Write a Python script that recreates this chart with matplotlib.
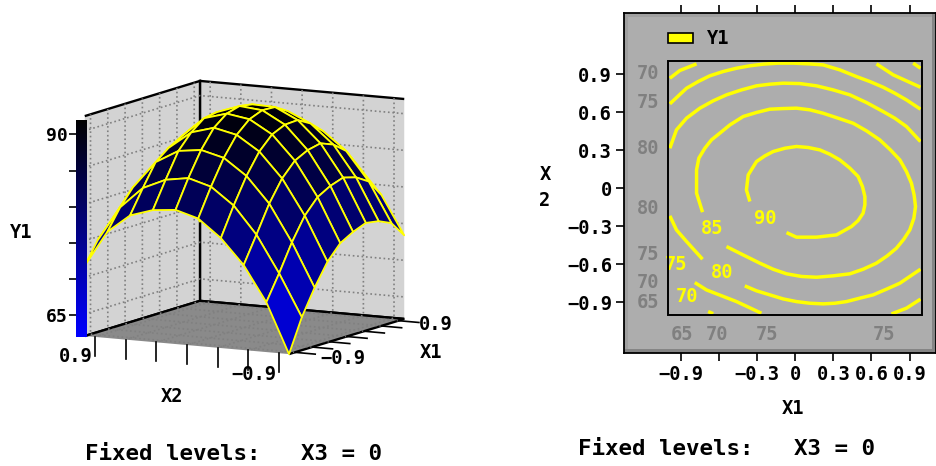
import matplotlib
matplotlib.use("Agg")
import matplotlib.pyplot as plt
import numpy as np
from matplotlib.cm import ScalarMappable
from matplotlib.colors import LinearSegmentedColormap, Normalize
from matplotlib.patches import Patch, Rectangle

W, H = 937, 466

# surface, rows are X1, columns are X2
grid_vals = [-1, -0.778, -0.556, -0.333, -0.111, 0.111, 0.333, 0.556, 0.778, 1]
y1_surface = [
    [62.0, 68.8, 73.6, 77.0, 79.4, 80.3, 80.0, 79.0, 76.5, 71.6],
    [66.5, 72.2, 77.2, 80.9, 83.2, 84.1, 83.6, 82.2, 79.3, 74.5],
    [70.0, 75.9, 80.9, 84.4, 86.6, 87.4, 87.0, 85.2, 81.5, 76.5],
    [73.0, 79.0, 83.8, 87.2, 89.2, 89.9, 89.0, 86.6, 82.3, 78.0],
    [75.0, 81.0, 85.7, 89.0, 90.8, 91.3, 90.4, 87.6, 84.0, 78.6],
    [76.0, 82.0, 86.6, 89.8, 91.5, 91.8, 90.7, 88.5, 84.2, 79.0],
    [76.7, 82.6, 87.0, 89.9, 91.4, 91.5, 90.2, 87.6, 83.8, 79.0],
    [76.4, 82.1, 86.3, 88.9, 90.3, 90.3, 88.8, 86.0, 82.5, 78.0],
    [75.6, 81.0, 84.9, 87.3, 88.3, 88.0, 86.5, 83.8, 80.0, 76.0],
    [73.4, 78.6, 82.2, 84.3, 85.0, 84.5, 83.0, 80.0, 77.0, 72.8],
]
ticks_3d = [-0.9, -0.6, -0.3, 0, 0.3, 0.6, 0.9]
z_ticks = [65, 70, 75, 80, 85, 90]
z_labels = ["65", "", "", "", "", "90"]

# contour lines (X1 list, X2 list)
c90_x = [-.356, -.383, -.369, -.304, -.238, -.173, -.081, .01, .102, .194, .272, .351, .43, .495, .529, .548, .548, .534, .495, .443, .325, .168, .01, -.068]
c90_y = [-.105, -.013, .105, .21, .255, .289, .315, .329, .321, .302, .268, .223, .158, .092, .013, -.066, -.131, -.197, -.255, -.302, -.368, -.386, -.386, -.35]
c85_x = [-.728, -.775, -.775, -.757, -.71, -.658, -.592, -.513, -.409, -.304, -.199, -.094, .01, .115, .22, .338, .456, .561, .665, .749, .823, .875, .914, .935, .946, .933, .901, .854, .796, .723, .639, .534, .43, .299, .168, .05, -.068, -.173, -.278, -.409, -.54]
c85_y = [-.189, -.039, .145, .237, .315, .381, .434, .499, .565, .597, .623, .628, .631, .618, .591, .552, .512, .452, .381, .302, .223, .131, .039, -.053, -.145, -.237, -.329, -.402, -.473, -.534, -.591, -.639, -.675, -.691, -.702, -.696, -.675, -.639, -.591, -.526, -.46]
c80a_x = [-.985, -.933, -.854, -.749, -.644, -.54, -.422, -.304, -.199, -.094, .037, .168, .299, .43, .561, .692, .783, .875, .985]
c80a_y = [.315, .46, .552, .631, .689, .736, .775, .807, .82, .828, .825, .807, .775, .736, .675, .604, .552, .486, .368]
c80b_x = [.985, .901, .823, .718, .613, .508, .403, .312, .22, .115, .01, -.094, -.199, -.304, -.396]
c80b_y = [-.639, -.696, -.749, -.796, -.841, -.867, -.894, -.907, -.912, -.907, -.894, -.873, -.841, -.809, -.77]
c80c_x = [-.728, -.854, -.933, -.985]
c80c_y = [-.56, -.42, -.329, -.218]
c75a_x = [-.985, -.854, -.762, -.671, -.566, -.461, -.356, -.252, -.134, -.016, .115, .22, .351, .482, .587, .692, .783, .875, .985]
c75a_y = [.665, .788, .841, .886, .92, .946, .965, .978, .986, .986, .98, .972, .933, .88, .841, .796, .749, .696, .623]
c75b_x = [.985, .875, .757]
c75b_y = [-.875, -.946, -.991]
c75c_x = [-.265, -.461, -.697, -.789]
c75c_y = [-.986, -.894, -.802, -.744]
c70a_x = [-.985, -.906, -.775]
c70a_y = [.867, .928, .98]
c70b_x = [.639, .77, .985]
c70b_y = [.98, .894, .796]
c70c_x = [-.684, -.644]
c70c_y = [-.972, -.99]
c65_x = [.927, .985]
c65_y = [.986, .946]
contours = [(c90_x, c90_y), (c85_x, c85_y), (c80a_x, c80a_y), (c80b_x, c80b_y), (c80c_x, c80c_y),
            (c75a_x, c75a_y), (c75b_x, c75b_y), (c75c_x, c75c_y), (c70a_x, c70a_y), (c70b_x, c70b_y),
            (c70c_x, c70c_y), (c65_x, c65_y)]

# labels on the contour lines and around the frame: text, X1, X2
inner_labels = [("90", -.238, -.237), ("85", -.65, -.315), ("80", -.571, -.662), ("70", -.854, -.854), ("75", -.938, -.604)]
outer_labels = [("70", -1.155, .901), ("75", -1.155, .678), ("80", -1.155, .315), ("80", -1.155, -.158),
                ("75", -1.155, -.526), ("70", -1.155, -.744), ("65", -1.155, -.901),
                ("65", -.886, -1.156), ("70", -.618, -1.156), ("75", -.22, -1.156), ("75", .697, -1.156)]
contour_ticks = [-0.9, -0.6, -0.3, 0, 0.3, 0.6, 0.9]
x_labels = ["\u22120.9", "", "\u22120.3", "0", "0.3", "0.6", "0.9"]
y_labels = ["\u22120.9", "\u22120.6", "\u22120.3", "0", "0.3", "0.6", "0.9"]

plt.rcParams["font.family"] = "DejaVu Sans Mono"
plt.rcParams["font.weight"] = "bold"
plt.rcParams["grid.color"] = "#808080"
plt.rcParams["grid.linestyle"] = ":"
plt.rcParams["grid.linewidth"] = 1.2

FS = 13.5
fig = plt.figure(figsize=(W / 100, H / 100), dpi=100)


def label(x, y, s, size=FS, **kw):
    # x, y are picture pixels, y going down
    fig.text(x / W, 1 - y / H, s, fontsize=size, ha="center", va="center", **kw)


# left panel
cmap = LinearSegmentedColormap.from_list("blues", ["#0000ff", "#000000"])
norm = Normalize(62, 92)

ax3 = fig.add_axes([5.2 / W, 9.2 / H, 466 / W, 1], projection="3d", proj_type="ortho", computed_zorder=False)
ax3.patch.set_alpha(0)
ax3.view_init(elev=9.46, azim=208.3)
ax3.set_box_aspect((242, 231, 222), zoom=0.84)
ax3.set_xlim(-1, 1)
ax3.set_ylim(-1, 1)
ax3.set_zlim(62, 92)
ax3.set_xticks(ticks_3d)
ax3.set_yticks(ticks_3d)
ax3.set_zticks(z_ticks)
ax3.set_xticklabels([])
ax3.set_yticklabels([])
ax3.set_zticklabels([])
ax3.tick_params(axis="both", color="none")
ax3.tick_params(axis="z", color="none")
for axis, col in ((ax3.xaxis, "#d3d3d3"), (ax3.yaxis, "#d3d3d3"), (ax3.zaxis, "#8a8a8a")):
    axis.set_pane_color(col)
    axis.pane.set_edgecolor("black")
    axis.pane.set_linewidth(1.7)
    axis.pane.set_alpha(1)
    axis.line.set_color("none")

X, Y = np.meshgrid(grid_vals, grid_vals, indexing="ij")
Z = np.array(y1_surface)
ax3.plot_surface(X, Y, Z, cmap=cmap, norm=norm, rstride=1, cstride=1, shade=False,
                 edgecolor="#ffff00", linewidth=1.3, zorder=5)

# tick marks under the floor edges
for t in ticks_3d:
    ax3.plot([-1, -1], [t, t], [62, 59.4], color="k", lw=1.2, zorder=2)
    ax3.plot([t, t], [-1, -1.2], [62, 62], color="k", lw=1.2, zorder=2)

# colour strip next to the box
cax = fig.add_axes([76 / W, 1 - 337 / H, 11 / W, 217 / H])
cb = fig.colorbar(ScalarMappable(norm=norm, cmap=cmap), cax=cax, ticks=z_ticks)
cb.set_ticklabels(z_labels)
cb.outline.set_visible(False)
cax.yaxis.set_ticks_position("left")
cax.tick_params(length=5, width=1.2, labelsize=13, pad=1)
cb.minorticks_off()

label(76, 357, "0.9")
label(254, 375, "\u22120.9")
label(172, 397, "X2")
label(436, 324, "0.9")
label(343, 358, "\u22120.9")
label(431, 353, "X1")
label(21, 233, "Y1")
label(233.5, 454, "Fixed levels:   X3 = 0", size=16.2)

# right panel
ax = fig.add_axes([624.3 / W, 1 - 352.7 / H, 311.7 / W, 339.4 / H])
ax.set_xlim(-1.343, 1.107)
ax.set_ylim(-1.297, 1.379)
ax.set_facecolor("#adadad")
for s in ax.spines.values():
    s.set_linewidth(1.3)
ax.add_patch(Rectangle((0, 0.988), 1, 0.012, transform=ax.transAxes, fc="#a0a0a0", ec="none", zorder=1))
ax.add_patch(Rectangle((0, 0), 0.013, 1, transform=ax.transAxes, fc="#a0a0a0", ec="none", zorder=1))
ax.add_patch(Rectangle((0, 0), 1, 0.012, transform=ax.transAxes, fc="#858585", ec="none", zorder=1))
ax.add_patch(Rectangle((0.987, 0), 0.013, 1, transform=ax.transAxes, fc="#858585", ec="none", zorder=1))

frame = Rectangle((-1, -1), 2, 2, fc="none", ec="k", lw=1.4, zorder=4)
ax.add_patch(frame)
for cx, cy in contours:
    ln, = ax.plot(cx, cy, color="#ffff00", lw=2.5, zorder=3, solid_capstyle="butt")
    ln.set_clip_path(frame)
for s, x, y in inner_labels:
    t = ax.text(x, y, s, color="#ffff00", fontsize=FS, ha="center", va="center", zorder=3)
    t.set_clip_path(frame)
for s, x, y in outer_labels:
    ax.text(x, y, s, color="#808080", fontsize=FS, ha="center", va="center")

ax.set_xticks(contour_ticks)
ax.set_xticklabels(x_labels)
ax.set_yticks(contour_ticks)
ax.set_yticklabels(y_labels)
ax.tick_params(top=True, right=True, length=5.8, width=1.2, labelsize=FS, pad=3)

ax.legend(handles=[Patch(fc="#ffff00", ec="k", lw=1.2)], labels=["Y1"], frameon=False, fontsize=FS,
          loc="upper left", bbox_to_anchor=(668 / W, 1 - 29.5 / H), bbox_transform=fig.transFigure,
          borderpad=0, borderaxespad=0, handlelength=1.33, handleheight=0.45, handletextpad=0.75)

label(793, 409, "X1")
label(545, 174, "X")
label(545, 201, "2")
label(726.7, 449, "Fixed levels:   X3 = 0", size=16.2)

fig.savefig("out.png", dpi=100)
